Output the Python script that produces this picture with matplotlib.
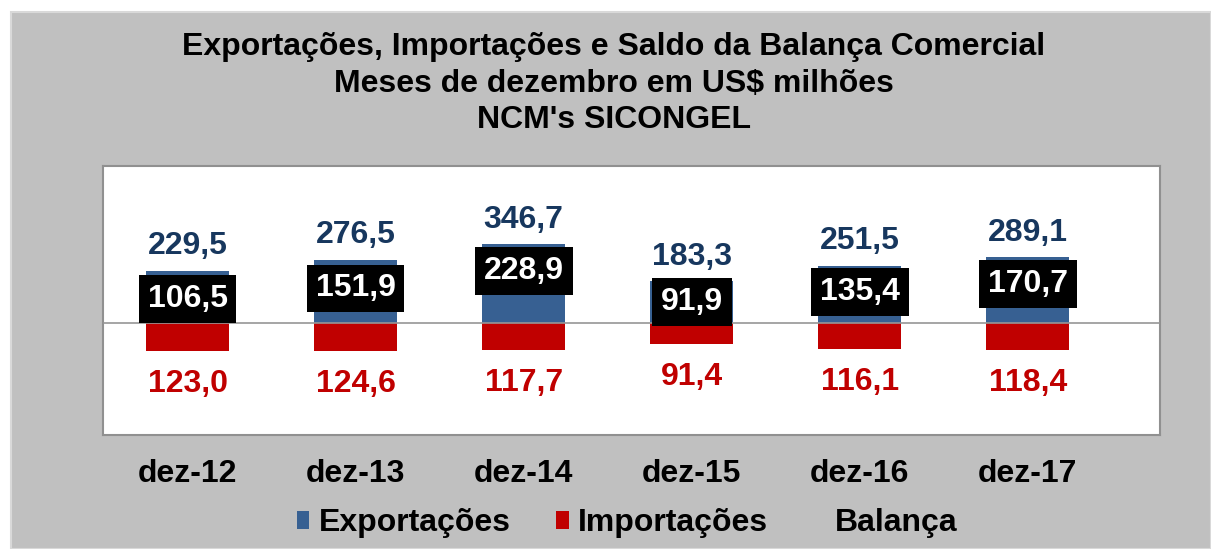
import matplotlib
matplotlib.use("Agg")
import matplotlib.pyplot as plt
from matplotlib.patches import Patch, Rectangle
from matplotlib.lines import Line2D
import numpy as np

plt.rcParams['font.family'] = ['Liberation Sans', 'DejaVu Sans']
plt.rcParams['font.weight'] = 'bold'

meses = ["dez-12", "dez-13", "dez-14", "dez-15", "dez-16", "dez-17"]
exportacoes = [229.5, 276.5, 346.7, 183.3, 251.5, 289.1]
importacoes = [123.0, 124.6, 117.7, 91.4, 116.1, 118.4]
balanca = [106.5, 151.9, 228.9, 91.9, 135.4, 170.7]

azul = "#376092"
vermelho = "#C00000"
azul_texto = "#17375E"
cinza = "#C0C0C0"
fs = 23

def fmt(v):
    return ("%.1f" % v).replace(".", ",")

fig = plt.figure(figsize=(12.11, 5.49), dpi=100, facecolor="white")
# fundo cinza da area do grafico
fig.patches.append(Rectangle((11 / 1211, 0), 1 - 11 / 1211, 1 - 12 / 549,
                             transform=fig.transFigure, facecolor=cinza,
                             edgecolor="#D9D9D9", linewidth=1.5, zorder=-1))

ax = fig.add_axes([103 / 1211, 1 - 435 / 549, 1057 / 1211, 269 / 549])
ax.set_zorder(1)
ax.set_facecolor("white")

x = np.arange(len(meses))
imp_neg = [-v for v in importacoes]
ax.bar(x, exportacoes, width=0.495, color=azul, zorder=2)
ax.bar(x, imp_neg, width=0.495, color=vermelho, zorder=2)
ax.plot(x, balanca, linestyle="none")
ax.axhline(0, color="#969696", linewidth=1.2, zorder=3)

for xi, v in zip(x, exportacoes):
    ax.annotate(fmt(v), (xi, v), xytext=(0, 7), textcoords="offset points",
                ha="center", va="bottom", fontsize=fs, fontweight="bold",
                color=azul_texto, zorder=4)
for xi, v in zip(x, imp_neg):
    ax.annotate(fmt(-v), (xi, v), xytext=(0, -13), textcoords="offset points",
                ha="center", va="top", fontsize=fs, fontweight="bold",
                color=vermelho, zorder=4)
for xi, v in zip(x, balanca):
    ax.text(xi, v, fmt(v), ha="center", va="center", fontsize=fs,
            fontweight="bold", color="white", zorder=5,
            bbox=dict(boxstyle="square,pad=0.28", facecolor="black",
                      edgecolor="none"))

ax.set_xlim(-0.503, 5.786)
ax.set_ylim(-493, 691)
ax.set_yticks([])
ax.set_xticks(x)
ax.set_xticklabels(meses, fontsize=fs, fontweight="bold")
ax.tick_params(axis="x", length=0, pad=17)
for s in ax.spines.values():
    s.set_color("#909090")
    s.set_linewidth(1.5)

fig.text(0.507, 1 - 55 / 549,
         "Exportações, Importações e Saldo da Balança Comercial",
         ha="center", va="baseline", fontsize=fs, fontweight="bold")
fig.text(0.507, 1 - 92 / 549, "Meses de dezembro em US$ milhões",
         ha="center", va="baseline", fontsize=fs, fontweight="bold")
fig.text(0.507, 1 - 128 / 549, "NCM's SICONGEL",
         ha="center", va="baseline", fontsize=fs, fontweight="bold")

handles = [Patch(facecolor=azul), Patch(facecolor=vermelho),
           Line2D([], [], linestyle="none")]
fig.legend(handles, ["Exportações", "Importações", "Balança"],
           loc="center", bbox_to_anchor=(0.518, 1 - 523 / 549), ncol=3,
           frameon=False, fontsize=fs, handlelength=0.4, handleheight=0.5,
           handletextpad=0.3, columnspacing=1.4)

fig.savefig("out.png", dpi=100, facecolor=fig.get_facecolor())
